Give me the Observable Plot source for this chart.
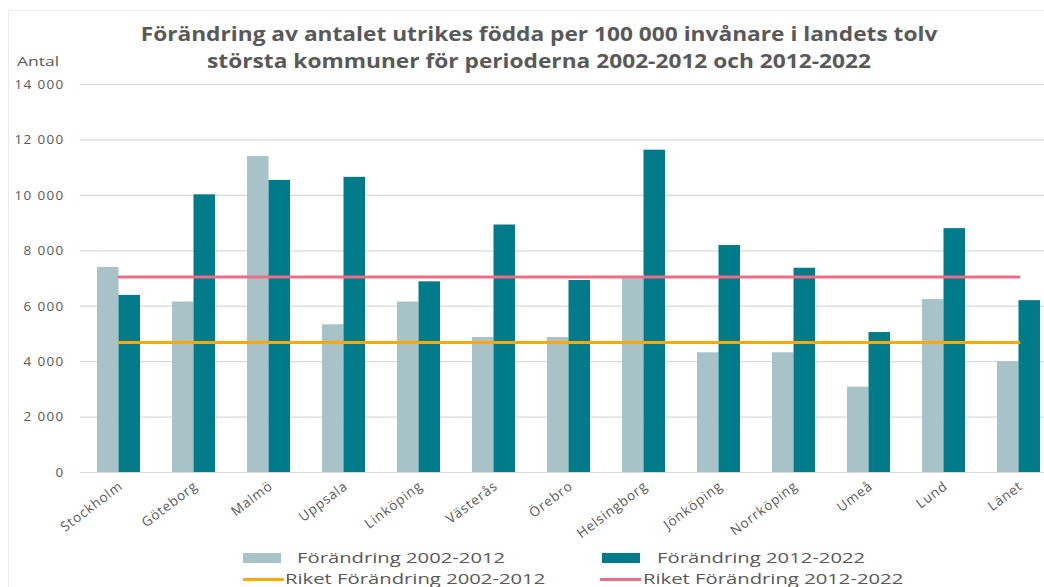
<!DOCTYPE html>
<html>
<head>
<meta charset="utf-8">
<script src="https://cdn.jsdelivr.net/npm/d3@7"></script>
<script src="https://cdn.jsdelivr.net/npm/@observablehq/plot@0.6"></script>
<style>
  html, body { margin: 0; padding: 0; background: #fff; }
  body { width: 1044px; height: 587px; overflow: hidden; position: relative; font-family: "Open Sans", sans-serif; color: #595959; }
  #frame { position: absolute; left: 8px; top: 10px; width: 1100px; height: 700px; border-left: 1px solid #ececec; border-top: 1px solid #ececec; }
  #title { position: absolute; left: 0; width: 1078px; top: 20px; text-align: center; font-weight: 700; font-size: 20px; line-height: 27px; color: #595959; transform: scaleX(1.135); transform-origin: 539px 0; }
  #ylabel { position: absolute; left: 17px; top: 52px; font-size: 13.5px; color: #595959; transform: scaleX(1.3); transform-origin: 0 0; }
  #chart { position: absolute; left: 0; top: 0; }
  .leg { position: absolute; font-size: 15px; color: #595959; white-space: nowrap; line-height: 18px; transform: scaleX(1.35); transform-origin: 0 0; }
  .sw { position: absolute; }
</style>
</head>
<body>
<div id="frame"></div>
<div id="chart"></div>
<div id="title">Förändring av antalet utrikes födda per 100 000 invånare i landets tolv<br>största kommuner för perioderna 2002-2012 och 2012-2022</div>
<div id="ylabel">Antal</div>
<div id="legend"></div>
<script>
const cities = ["Stockholm","Göteborg","Malmö","Uppsala","Linköping","Västerås","Örebro","Helsingborg","Jönköping","Norrköping","Umeå","Lund","Länet"];
const change2002_2012 = [7400, 6150, 11400, 5330, 6150, 4870, 4870, 6990, 4320, 4320, 3080, 6240, 4000];
const change2012_2022 = [6390, 10020, 10540, 10650, 6880, 8930, 6930, 11630, 8190, 7370, 5050, 8800, 6200];
const riket2002_2012 = 4690;
const riket2012_2022 = 7050;
const yTicks = [0, 2000, 4000, 6000, 8000, 10000, 12000, 14000];
const seriesNames = ["Förändring 2002-2012", "Förändring 2012-2022", "Riket Förändring 2002-2012", "Riket Förändring 2012-2022"];
const colors = ["#a7c3c8", "#007b8a", "#ffa800", "#ef6b86"];

const rows1 = cities.map((c, i) => ({city: c, value: change2002_2012[i]}));
const rows2 = cities.map((c, i) => ({city: c, value: change2012_2022[i]}));
const line1 = cities.map(c => ({city: c, value: riket2002_2012}));
const line2 = cities.map(c => ({city: c, value: riket2012_2022}));

const fmt = d => d3.format(",")(d).replace(/,/g, " ");

const chart = Plot.plot({
  width: 1044,
  height: 587,
  marginTop: 84,
  marginBottom: 115,
  marginLeft: 80,
  marginRight: 0,
  style: {background: "transparent", fontFamily: "Open Sans, sans-serif", color: "#595959", overflow: "hidden"},
  x: {domain: cities, range: [79.375, 1057.625], paddingInner: 0.43, paddingOuter: 0.215},
  y: {domain: [0, 14000]},
  marks: [
    Plot.gridY(yTicks, {stroke: "#d9d9d9", strokeOpacity: 1, strokeWidth: 1.2}),
    Plot.axisY(yTicks, {tickSize: 0, tickPadding: 16, tickFormat: fmt, fontSize: 13.5, fill: "#595959", label: null}),
    Plot.axisX({tickSize: 0, tickPadding: 12, dx: 2, tickRotate: -37, fontSize: 13.5, fill: "#595959", label: null}),
    Plot.barY(rows1, {x: "city", y: "value", fill: colors[0], insetRight: 21.5}),
    Plot.barY(rows2, {x: "city", y: "value", fill: colors[1], insetLeft: 21.5}),
    Plot.lineY(line1, {x: "city", y: "value", stroke: colors[2], strokeWidth: 3}),
    Plot.lineY(line2, {x: "city", y: "value", stroke: colors[3], strokeWidth: 3})
  ]
});
document.getElementById("chart").appendChild(chart);
d3.select(chart).selectAll('g[aria-label="y-axis tick label"] text').style("letter-spacing", "1.3px");
d3.select(chart).selectAll('g[aria-label="x-axis tick label"] text').style("letter-spacing", "0.8px");

// Legend
const legend = document.getElementById("legend");
const legendItems = [
  {name: seriesNames[0], color: colors[0], kind: "box", x: 243, y: 548, tx: 297},
  {name: seriesNames[1], color: colors[1], kind: "box", x: 602, y: 548, tx: 657},
  {name: seriesNames[2], color: colors[2], kind: "line", x: 243, y: 569, tx: 285},
  {name: seriesNames[3], color: colors[3], kind: "line", x: 600, y: 569, tx: 643}
];
legendItems.forEach(it => {
  const sw = document.createElement("div");
  sw.className = "sw";
  if (it.kind === "box") {
    Object.assign(sw.style, {left: it.x + "px", top: (it.y + 5) + "px", width: "38px", height: "10px", background: it.color});
  } else {
    Object.assign(sw.style, {left: it.x + "px", top: (it.y + 9) + "px", width: "41px", height: "3px", background: it.color});
  }
  legend.appendChild(sw);
  const t = document.createElement("div");
  t.className = "leg";
  t.textContent = it.name;
  Object.assign(t.style, {left: it.tx + "px", top: it.y + "px"});
  legend.appendChild(t);
});
</script>
</body>
</html>
